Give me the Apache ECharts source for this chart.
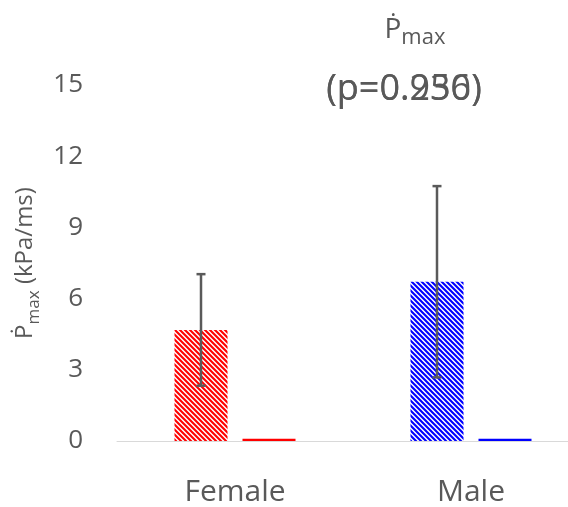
<!DOCTYPE html>
<html>
<head>
<meta charset="utf-8">
<script src="https://cdn.jsdelivr.net/npm/echarts@6/dist/echarts.min.js"></script>
<style>html,body{margin:0;padding:0;background:#fff}#c{width:568px;height:507px}</style>
</head>
<body>
<div id="c"></div>
<script>
const categories = ['Female', 'Male'];
const meanValues = [4.68, 6.71];
const sdValues = [2.35, 4.03];
const secondValues = [0.1, 0.1];
const yMin = 0, yMax = 15, yInterval = 3;
const pTexts = ['(p=0.250)', '(p=0.936)'];
const solidColors = ['#ff0000', '#0000ff'];

const FONT = '"Open Sans", "Noto Sans", sans-serif';
const BAR_W = 53, BAR_GAP = 15;

function hatch(color) {
  const s = 5;
  const c = document.createElement('canvas');
  c.width = s; c.height = s;
  const g = c.getContext('2d');
  g.fillStyle = '#ffffff';
  g.fillRect(0, 0, s, s);
  g.strokeStyle = color;
  g.lineWidth = 2.1;
  g.beginPath();
  g.moveTo(-1, -1); g.lineTo(s + 1, s + 1);
  g.moveTo(-1, s - 1); g.lineTo(1, s + 1);
  g.moveTo(s - 1, -1); g.lineTo(s + 1, 1);
  g.stroke();
  return c;
}

const chart = echarts.init(document.getElementById('c'), null, {renderer: 'canvas'});
const option = {
  animation: false,
  backgroundColor: '#ffffff',
  grid: {left: 117, top: 85, width: 472, height: 356, containLabel: false, outerBoundsMode: 'none'},
  graphic: [
    {type: 'text', x: 415, y: 30, style: {
      text: 'Ṗ{s|max}', fill: '#595959', align: 'center', verticalAlign: 'middle',
      fontFamily: FONT, fontSize: 28, lineHeight: 38,
      rich: {s: {fontFamily: FONT, fontSize: 22, lineHeight: 22, verticalAlign: 'bottom', fill: '#595959'}}
    }},
    {type: 'text', x: 404, y: 90, style: {text: pTexts[0], fill: '#595959', align: 'center', verticalAlign: 'middle', fontFamily: FONT, fontSize: 36}},
    {type: 'text', x: 404, y: 90, style: {text: pTexts[1], fill: '#595959', align: 'center', verticalAlign: 'middle', fontFamily: FONT, fontSize: 36}}
  ],
  xAxis: {
    type: 'category', data: categories,
    axisLine: {show: true, lineStyle: {color: '#d9d9d9', width: 1}},
    axisTick: {show: false},
    axisLabel: {color: '#595959', fontFamily: FONT, fontSize: 30, margin: 36}
  },
  yAxis: {
    type: 'value', min: yMin, max: yMax, interval: yInterval,
    axisLine: {show: false}, axisTick: {show: false}, splitLine: {show: false},
    axisLabel: {color: '#595959', fontFamily: FONT, fontSize: 26, margin: 34},
    name: 'Ṗ{s|max} (kPa/ms)', nameLocation: 'middle', nameGap: 72, nameRotate: 90,
    nameTextStyle: {color: '#595959', fontFamily: FONT, fontSize: 24, lineHeight: 34,
      rich: {s: {fontFamily: FONT, fontSize: 17, lineHeight: 17, verticalAlign: 'bottom', color: '#595959'}}}
  },
  series: [
    {
      type: 'bar', barWidth: BAR_W, barGap: (BAR_GAP / BAR_W * 100) + '%',
      data: meanValues.map((v, i) => ({value: v, itemStyle: {color: {image: hatch(solidColors[i]), repeat: 'repeat'}}}))
    },
    {
      type: 'bar', barWidth: BAR_W,
      data: secondValues.map((v, i) => ({value: v, itemStyle: {color: solidColors[i]}}))
    },
    {
      type: 'custom', z: 10,
      data: meanValues.map((v, i) => [i, v - sdValues[i], v + sdValues[i]]),
      renderItem: function (params, api) {
        const off = -(BAR_W + BAR_GAP) / 2;
        const lo = api.coord([api.value(0), api.value(1)]);
        const hi = api.coord([api.value(0), api.value(2)]);
        const x = lo[0] + off;
        const cap = 4.5;
        const st = {stroke: '#5a5a5a', lineWidth: 2.5};
        return {type: 'group', children: [
          {type: 'line', shape: {x1: x, y1: lo[1], x2: x, y2: hi[1]}, style: st},
          {type: 'line', shape: {x1: x - cap, y1: lo[1], x2: x + cap, y2: lo[1]}, style: st},
          {type: 'line', shape: {x1: x - cap, y1: hi[1], x2: x + cap, y2: hi[1]}, style: st}
        ]};
      }
    }
  ]
};
chart.setOption(option);
</script>
</body>
</html>
